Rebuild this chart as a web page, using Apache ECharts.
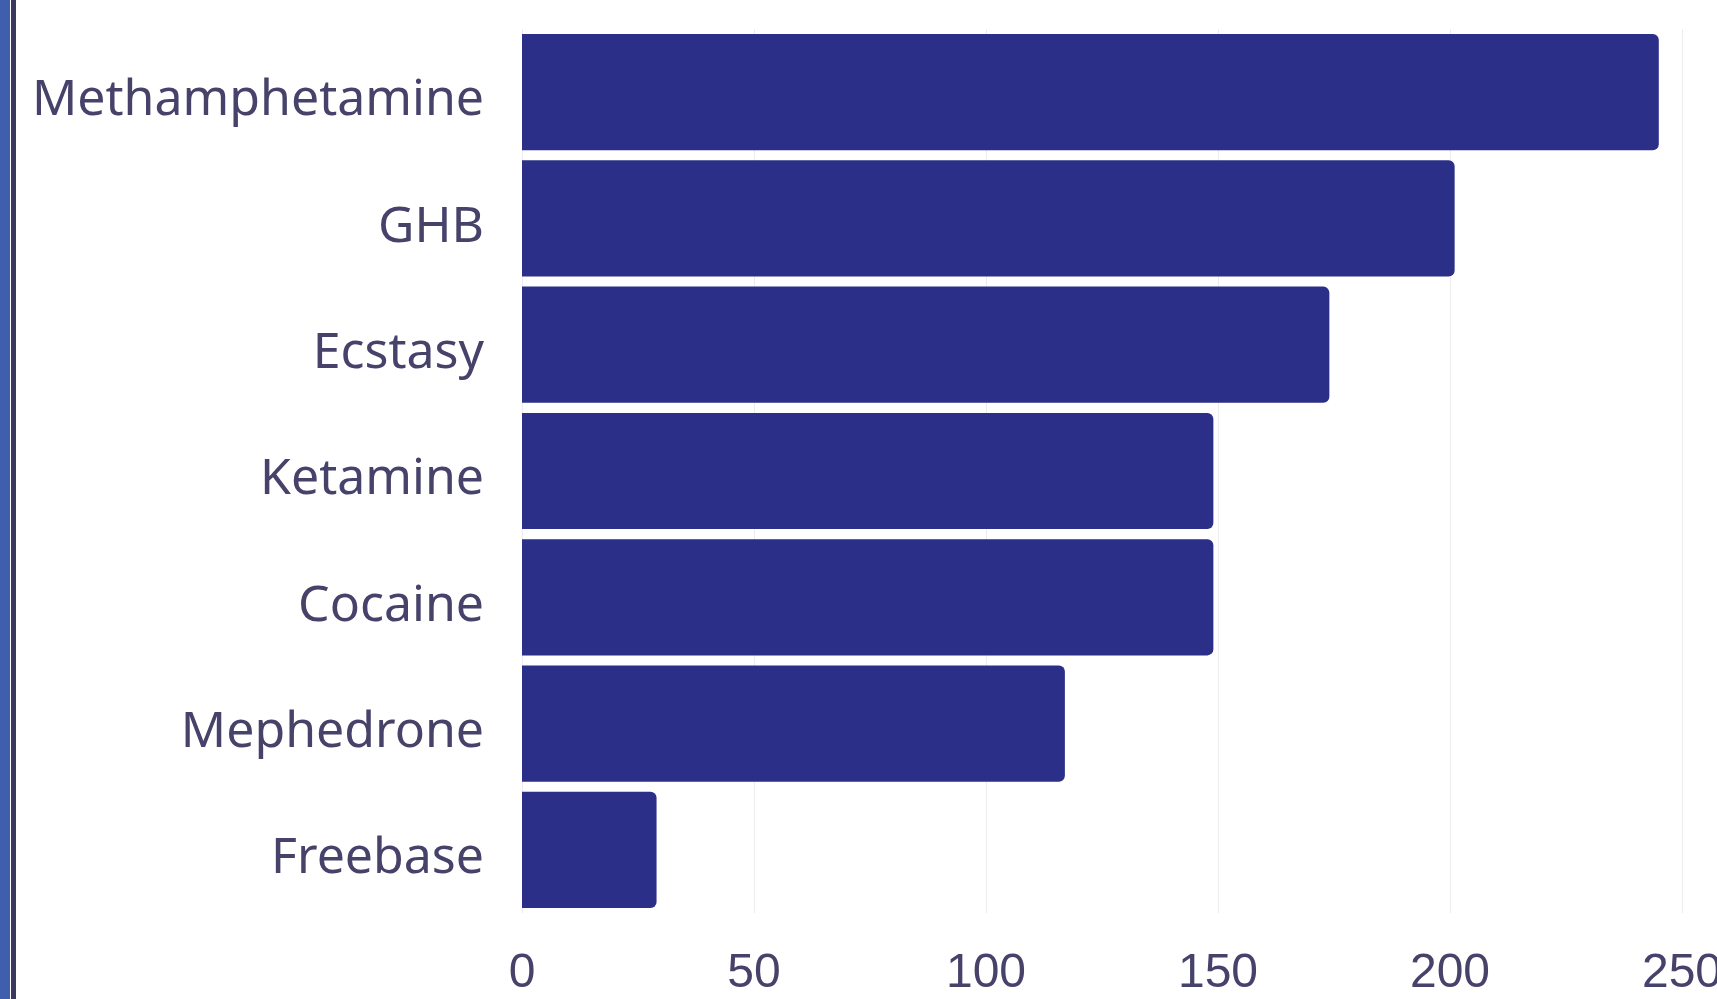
<!DOCTYPE html>
<html>
<head>
<meta charset="utf-8">
<title>Drug counts</title>
<script src="https://cdn.jsdelivr.net/npm/echarts@6/dist/echarts.min.js"></script>
<style>
  html, body { margin: 0; padding: 0; background: #ffffff; overflow: hidden; }
  #chart { width: 1717px; height: 999px; }
</style>
</head>
<body>
<div id="chart"></div>
<script>
// Categories listed top to bottom
const drugs = ['Methamphetamine', 'GHB', 'Ecstasy', 'Ketamine', 'Cocaine', 'Mephedrone', 'Freebase'];
const counts = [245, 201, 174, 149, 149, 117, 29];
const valueTicks = [0, 50, 100, 150, 200, 250];

const textColor = '#46426a';
const barColor = '#2b2f87';

const chart = echarts.init(document.getElementById('chart'), null, { renderer: 'canvas', width: 1717, height: 999 });

chart.setOption({
  backgroundColor: '#ffffff',
  animation: false,
  grid: {
    left: 522, right: 35, top: 29, bottom: 86,
    containLabel: false,
    outerBoundsMode: 'none'
  },
  xAxis: {
    type: 'value',
    min: valueTicks[0],
    max: valueTicks[valueTicks.length - 1],
    interval: 50,
    axisLine: { show: false },
    axisTick: { show: false },
    splitLine: { show: true, lineStyle: { color: '#ececf0', width: 1 } },
    axisLabel: {
      color: textColor,
      fontFamily: '"Liberation Sans Narrow", "Liberation Sans", sans-serif',
      fontSize: 48,
      margin: 37
    }
  },
  yAxis: {
    type: 'category',
    data: drugs,
    inverse: true,
    axisLine: { show: false },
    axisTick: { show: false },
    axisLabel: {
      color: textColor,
      fontFamily: '"Noto Sans", "Open Sans", sans-serif',
      fontSize: 50,
      margin: 38,
      verticalAlign: 'top',
      lineHeight: 18
    }
  },
  series: [{
    type: 'bar',
    data: counts,
    barCategoryGap: '8%',
    itemStyle: { color: barColor, borderRadius: [0, 6, 6, 0] }
  }],
  graphic: [
    { type: 'rect', left: 0, top: 0, shape: { width: 10, height: 999 }, style: { fill: '#3f5ead' } },
    { type: 'rect', left: 11, top: 0, shape: { width: 5, height: 999 }, style: { fill: '#3b3860' } }
  ]
});
</script>
</body>
</html>
